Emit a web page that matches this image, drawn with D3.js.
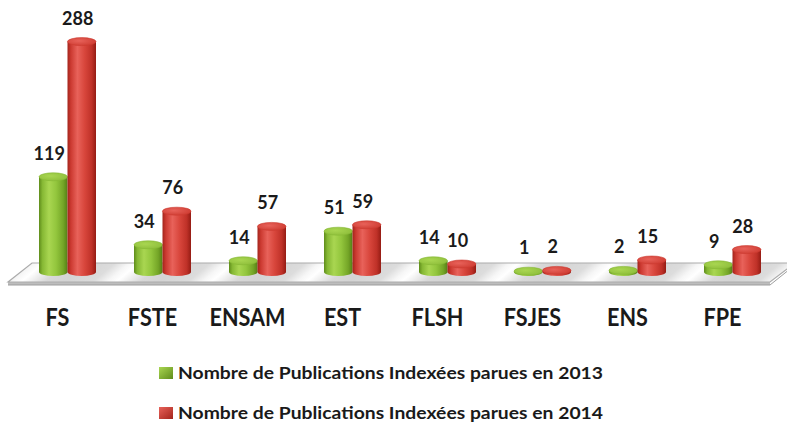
<!DOCTYPE html>
<html><head><meta charset="utf-8">
<script src="https://cdn.jsdelivr.net/npm/d3@7"></script>
<style>html,body{margin:0;padding:0;background:#fff;}svg{display:block;}</style>
</head><body>
<svg id="chart" width="787" height="423"></svg>
<script>
const categories = ["FS","FSTE","ENSAM","EST","FLSH","FSJES","ENS","FPE"];
const seriesNames = ["Nombre de Publications Indexées parues en 2013","Nombre de Publications Indexées parues en 2014"];
const values2013 = [119,34,14,51,14,1,2,9];
const values2014 = [288,76,57,59,10,2,15,28];

const svg = d3.select("#chart");
const defs = svg.append("defs");
const seriesVals = [values2013, values2014];
const palettes = [
  {id:"g", stops:["#5f8c1b","#86b834","#a9d651","#93c63d","#74a527","#557f16"], topEdge:"#8dbd3a"},
  {id:"r", stops:["#a3241b","#cc3a31","#e8625a","#d8463c","#bf3128","#951c14"], topEdge:"#cd3a30"}
];
palettes.forEach(p=>{
  const lg = defs.append("linearGradient").attr("id","cyl-"+p.id).attr("x1","0").attr("x2","1").attr("y1","0").attr("y2","0");
  [0,0.12,0.35,0.6,0.85,1].forEach((o,i)=>lg.append("stop").attr("offset",o).attr("stop-color",p.stops[i]));
  const tg = defs.append("radialGradient").attr("id","top-"+p.id).attr("cx","0.4").attr("cy","0.4").attr("r","0.7");
  tg.append("stop").attr("offset",0).attr("stop-color",p.stops[2]);
  tg.append("stop").attr("offset",1).attr("stop-color",p.topEdge);
  const sq = defs.append("linearGradient").attr("id","sq-"+p.id).attr("x1","0").attr("x2","1").attr("y1","0").attr("y2","1");
  sq.append("stop").attr("offset",0).attr("stop-color",p.stops[2]);
  sq.append("stop").attr("offset",1).attr("stop-color",p.stops[0]);
});
const fg = defs.append("pattern").attr("id","floorPat").attr("patternUnits","userSpaceOnUse")
  .attr("width",95).attr("height",40).attr("patternTransform","translate(20,0) skewX(-50)");
const fgr = defs.append("linearGradient").attr("id","streak").attr("x1","0").attr("x2","1").attr("y1","0").attr("y2","0");
[[0,"#d4d4d4"],[0.3,"#dcdcdc"],[0.45,"#f6f6f6"],[0.55,"#ffffff"],[0.65,"#efefef"],[0.8,"#d8d8d8"],[1,"#d4d4d4"]]
  .forEach(s=>fgr.append("stop").attr("offset",s[0]).attr("stop-color",s[1]));
fg.append("rect").attr("width",95).attr("height",40).attr("fill","url(#streak)");

const x = d3.scaleBand().domain(categories).range([20,780]).paddingInner(0.4).paddingOuter(0.2);
const xs = d3.scaleBand().domain(d3.range(seriesNames.length)).range([0,x.bandwidth()]);
const y = d3.scaleLinear().domain([0,300]).range([272,32]);

const floor = svg.append("g");
floor.append("path").attr("d","M8,282 L770,282 L770,285 L8,285 Z").attr("fill","#bdbdbd");
floor.append("path").attr("d","M8,282 L32,263 L795,263 L770,282 Z").attr("fill","url(#floorPat)").attr("stroke","#ababab").attr("stroke-width",1.2);
floor.append("path").attr("d","M8,285 L770,285 L795,265").attr("fill","none").attr("stroke","#9d9d9d").attr("stroke-width",1);

const ry = 4;
const g = svg.append("g");
categories.forEach((c,i)=>{
  seriesVals.forEach((vals,s)=>{
    const v = vals[i];
    const x0 = x(c)+xs(s), w = xs.bandwidth(), rx = w/2;
    const x1 = x0+w, yb = y(0), yt = y(v);
    const p = palettes[s];
    g.append("path")
      .attr("d",`M${x0},${yt} L${x0},${yb} A${rx},${ry} 0 0 0 ${x1},${yb} L${x1},${yt} Z`)
      .attr("fill",`url(#cyl-${p.id})`);
    g.append("ellipse").attr("cx",x0+rx).attr("cy",yt).attr("rx",rx).attr("ry",ry)
      .attr("fill",`url(#top-${p.id})`).attr("stroke",p.stops[1]).attr("stroke-width",0.6);
    g.append("text").attr("x",x0+rx-4).attr("y",yt-ry-13)
      .attr("text-anchor","middle").attr("font-family","Lato, sans-serif").attr("font-weight",700)
      .attr("font-size",18).attr("fill","#1a1a1a").text(v);
  });
});

svg.append("g").selectAll("text").data(categories).join("text")
  .attr("transform",d=>`translate(${x(d)+x.bandwidth()/2-10},326) scale(0.9,1)`)
  .attr("text-anchor","middle").attr("font-family","Lato, sans-serif").attr("font-weight",700)
  .attr("font-size",24).attr("fill","#1a1a1a").text(d=>d);

const leg = svg.append("g");
seriesNames.forEach((n,s)=>{
  const yy = 379 + s*40;
  leg.append("rect").attr("x",159).attr("y",yy-12).attr("width",14).attr("height",12)
    .attr("fill",`url(#sq-${palettes[s].id})`);
  leg.append("text").attr("x",178).attr("y",yy).attr("font-family","Lato, sans-serif").attr("font-weight",700)
    .attr("font-size",17.5).attr("fill","#1a1a1a").attr("textLength",425).attr("lengthAdjust","spacingAndGlyphs").text(n);
});
</script>
</body></html>
